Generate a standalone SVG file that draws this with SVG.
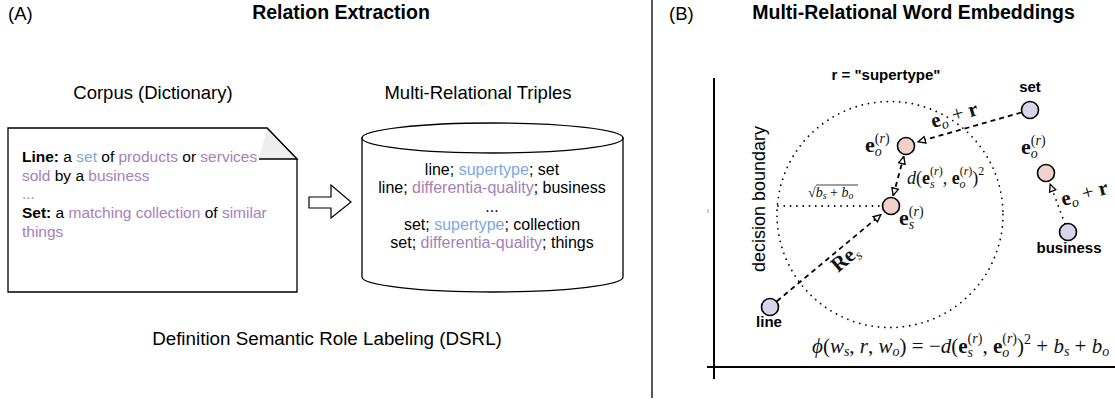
<svg xmlns="http://www.w3.org/2000/svg" width="1115" height="401" viewBox="0 0 1115 401">
<defs>
<style>
.s{font-family:"Liberation Sans",Arial,sans-serif;fill:#000}
.bd{font-weight:bold}
.bl{fill:#7EA6E0}
.pu{fill:#A680B8}
.m{font-family:"Liberation Serif","Times New Roman","DejaVu Serif",serif;fill:#111}
.i{font-style:italic}
.b{font-weight:bold}
.shape{fill:#fff;stroke:#000;stroke-width:1.3}
.word{fill:#DAD4EA;stroke:#000;stroke-width:1.6}
.emb{fill:#F2D0CC;stroke:#000;stroke-width:1.6}
.dash{fill:none;stroke:#000;stroke-width:1.8;stroke-dasharray:5 4}
.dot{fill:none;stroke:#000;stroke-width:1.8;stroke-dasharray:0 6.3;stroke-linecap:round}
.axis{stroke:#000;stroke-width:2}
</style>
<marker id="ah" viewBox="0 0 10 10" refX="9" refY="5" markerWidth="9" markerHeight="9" markerUnits="userSpaceOnUse" orient="auto-start-reverse"><path d="M1,1.3 L9,5 L1,8.7 Z" fill="#fff" stroke="#000" stroke-width="1.5" stroke-dasharray="none"/></marker>
</defs>
<rect width="1115" height="401" fill="#fff"/>

<!-- panel divider -->
<line x1="652" y1="0" x2="652" y2="398" stroke="#000" stroke-width="1.3"/>

<!-- Panel A titles -->
<text class="s" x="8" y="20" font-size="18.5">(A)</text>
<text class="s bd" x="341" y="19" font-size="19.5" text-anchor="middle">Relation Extraction</text>
<text class="s" x="153" y="99" font-size="18.5" text-anchor="middle">Corpus (Dictionary)</text>
<text class="s" x="478" y="99" font-size="18.5" text-anchor="middle">Multi-Relational Triples</text>
<text class="s" x="327" y="345" font-size="18.8" text-anchor="middle">Definition Semantic Role Labeling (DSRL)</text>

<!-- Document node -->
<g id="corpus">
<path class="shape" d="M8,128 L267,128 L297,159 L297,292 L8,292 Z"/>
<polygon points="267,128 297,159 259,159" fill="#eee"/>
<polyline points="267,128 297,159 259,159" fill="none" stroke="#000" stroke-width="1.3"/>
<text class="s" font-size="15.5" x="22" y="162"><tspan class="bd">Line:</tspan> a <tspan class="bl">set</tspan> of <tspan class="pu">products</tspan> or <tspan class="pu">services</tspan></text>
<text class="s" font-size="15.5" x="22" y="181"><tspan class="pu">sold</tspan> by a <tspan class="pu">business</tspan></text>
<text class="s pu" font-size="15.5" x="22" y="199">...</text>
<text class="s" font-size="15.5" x="22" y="218"><tspan class="bd">Set:</tspan> a <tspan class="pu">matching collection</tspan> of <tspan class="pu">similar</tspan></text>
<text class="s pu" font-size="15.5" x="22" y="237">things</text>
</g>

<!-- Block arrow -->
<g id="extract-arrow">
<polygon points="309,197 331,197 331,185 351,202 331,218 331,208 309,208" fill="#fff" stroke="#000" stroke-width="1.2"/>
</g>

<!-- Cylinder node -->
<g id="triples">
<path class="shape" d="M362,138 L362,277 A130.5,15 0 0 0 623,277 L623,138 Z"/>
<ellipse class="shape" cx="492.5" cy="138" rx="130.5" ry="15"/>
<g class="s" font-size="16" text-anchor="middle">
<text x="492" y="175">line; <tspan class="bl">supertype</tspan>; set</text>
<text x="492" y="193">line; <tspan class="pu">differentia-quality</tspan>; business</text>
<text x="492" y="212">...</text>
<text x="492" y="230">set; <tspan class="bl">supertype</tspan>; collection</text>
<text x="492" y="248">set; <tspan class="pu">differentia-quality</tspan>; things</text>
</g>
</g>

<!-- Panel B -->
<text class="s" x="669" y="20" font-size="18.5">(B)</text>
<text class="s bd" x="913.5" y="19" font-size="19.5" text-anchor="middle">Multi-Relational Word Embeddings</text>

<g id="axes">
<line class="axis" x1="714" y1="78" x2="714" y2="379"/>
<line class="axis" x1="707" y1="367" x2="1115" y2="367"/>
<rect x="707" y="209" width="2" height="4" fill="#ccc"/>
<text class="s" font-size="18" transform="rotate(-90 765 199)" x="765" y="199" text-anchor="middle">decision boundary</text>
<text class="s bd" font-size="15" x="886" y="80" text-anchor="middle">r = "supertype"</text>
</g>

<g id="boundary">
<circle class="dot" cx="890" cy="214.5" r="113"/>
<line class="dot" x1="778" y1="206" x2="880" y2="206"/>
<text class="m" font-size="14" x="808" y="197">√<tspan class="i">b</tspan><tspan class="i" font-size="10" dy="2">s</tspan><tspan dy="-2"> + </tspan><tspan class="i">b</tspan><tspan class="i" font-size="10" dy="2">o</tspan></text>
<line x1="816" y1="185" x2="858" y2="185" stroke="#111" stroke-width="0.8"/>
</g>

<!-- connectors -->
<g id="connectors">
<line class="dash" x1="776.9" y1="301.2" x2="880.8" y2="214.7" marker-end="url(#ah)"/>
<line class="dash" x1="1021.3" y1="112.5" x2="918.1" y2="141.8" marker-end="url(#ah)"/>
<line class="dash" x1="893.2" y1="195.4" x2="903.8" y2="156.6" marker-start="url(#ah)" marker-end="url(#ah)"/>
<line class="dot" x1="1064.9" y1="223.6" x2="1050.2" y2="184.2" marker-end="url(#ah)"/>
</g>

<!-- nodes -->
<g id="node-line">
<circle class="word" cx="770" cy="307" r="8.5"/>
<text class="s bd" font-size="15" x="769" y="327" text-anchor="middle">line</text>
</g>
<g id="node-set">
<circle class="word" cx="1030" cy="110" r="8.5"/>
<text class="s bd" font-size="15" x="1030" y="92" text-anchor="middle">set</text>
</g>
<g id="node-business">
<circle class="word" cx="1068" cy="232" r="8.5"/>
<text class="s bd" font-size="15" x="1069" y="253" text-anchor="middle">business</text>
</g>
<g id="node-es">
<circle class="emb" cx="891" cy="206" r="8.5"/>
<text class="m" font-size="22" x="899" y="225"><tspan class="b">e</tspan><tspan font-size="14" dy="-9">(<tspan class="i">r</tspan>)</tspan><tspan class="i" font-size="14" dx="-14.8" dy="13">s</tspan></text>
</g>
<g id="node-eo">
<circle class="emb" cx="906" cy="146" r="8.5"/>
<text class="m" font-size="22" x="865" y="152"><tspan class="b">e</tspan><tspan font-size="14" dy="-9">(<tspan class="i">r</tspan>)</tspan><tspan class="i" font-size="14" dx="-14.8" dy="13">o</tspan></text>
</g>
<g id="node-eo2">
<circle class="emb" cx="1046" cy="173" r="8.5"/>
<text class="m" font-size="22" x="1021" y="154"><tspan class="b">e</tspan><tspan font-size="14" dy="-9">(<tspan class="i">r</tspan>)</tspan><tspan class="i" font-size="14" dx="-14.8" dy="13">o</tspan></text>
</g>

<!-- connector labels -->
<g id="labels">
<text class="m" font-size="21" transform="rotate(-16 933 128)" x="933" y="128"><tspan class="b">e</tspan><tspan class="i" font-size="14" dy="4">o</tspan><tspan dy="-4"> + </tspan><tspan class="b">r</tspan></text>
<text class="m" font-size="21" transform="rotate(-15 1063 206)" x="1063" y="206"><tspan class="b">e</tspan><tspan class="i" font-size="14" dy="4">o</tspan><tspan dy="-4"> + </tspan><tspan class="b">r</tspan></text>
<text class="m" font-size="21" transform="rotate(-40 838 273)" x="838" y="273"><tspan class="b">Re</tspan><tspan class="i" font-size="14" dy="4">s</tspan></text>
<text class="m" font-size="18" x="907" y="184"><tspan class="i">d</tspan>(<tspan class="b">e</tspan><tspan font-size="12" dy="-9">(<tspan class="i">r</tspan>)</tspan><tspan class="i" font-size="12" dx="-12.7" dy="13">s</tspan><tspan dx="8" dy="-4">, </tspan><tspan class="b">e</tspan><tspan font-size="12" dy="-9">(<tspan class="i">r</tspan>)</tspan><tspan class="i" font-size="12" dx="-12.7" dy="13">o</tspan><tspan dx="6.7" dy="-4">)</tspan><tspan font-size="12" dy="-9">2</tspan></text>
<text class="m" font-size="21" x="812" y="353"><tspan class="i">ϕ</tspan>(<tspan class="i">w</tspan><tspan class="i" font-size="14" dy="3">s</tspan><tspan dy="-3">, </tspan><tspan class="i">r</tspan>, <tspan class="i">w</tspan><tspan class="i" font-size="14" dy="3">o</tspan><tspan dy="-3">) = −</tspan><tspan class="i">d</tspan>(<tspan class="b">e</tspan><tspan font-size="14" dy="-10">(<tspan class="i">r</tspan>)</tspan><tspan class="i" font-size="14" dx="-14.8" dy="14">s</tspan><tspan dx="9.4" dy="-4">, </tspan><tspan class="b">e</tspan><tspan font-size="14" dy="-10">(<tspan class="i">r</tspan>)</tspan><tspan class="i" font-size="14" dx="-14.8" dy="14">o</tspan><tspan dx="7.8" dy="-4">)</tspan><tspan font-size="14" dy="-9">2</tspan><tspan dy="9"> + </tspan><tspan class="i">b</tspan><tspan class="i" font-size="14" dy="3">s</tspan><tspan dy="-3"> + </tspan><tspan class="i">b</tspan><tspan class="i" font-size="14" dy="3">o</tspan></text>
</g>
</svg>
